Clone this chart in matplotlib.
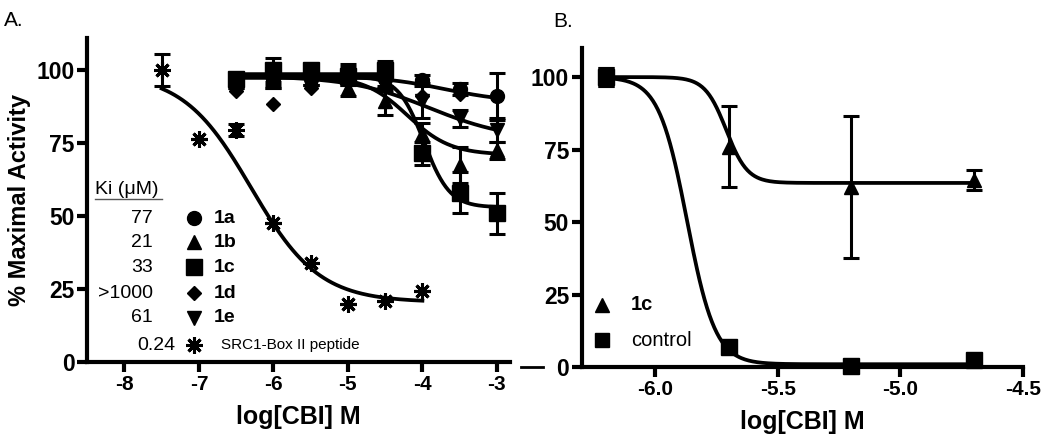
import numpy as np
import matplotlib.pyplot as plt
from matplotlib.lines import Line2D

plt.rcParams['font.family'] = ['Liberation Sans', 'DejaVu Sans']
plt.rcParams['axes.unicode_minus'] = False

# ---- panel A data ----
conc_a = [-6.5, -6.0, -5.5, -5.0, -4.5, -4.0, -3.5, -3.0]
a_1a = [97, 97, 97, 99, 97, 96.5, 93.5, 91]
a_1a_err = [2, 3, 2, 3, 3, 2, 2, 8]
a_1b = [96, 97, 97, 94, 89.5, 78, 67.5, 72.5]
a_1b_err = [2, 2, 2, 3, 5, 4, 6, 3]
a_1c = [97, 100, 100, 98, 100, 71.5, 58, 51]
a_1c_err = [2, 4, 2, 3, 3, 4, 7, 7]
a_1d = [93, 88.5, 94, 97, 97, 91, 92, 91]
a_1e = [96, 96, 97, 97, 96, 89.5, 83.5, 79.5]
a_1e_err = [2, 2, 2, 2, 3, 6, 3, 4]

conc_src = [-7.5, -7.0, -6.5, -6.0, -5.5, -5.0, -4.5, -4.0]
src = [100, 76.5, 79.5, 47.5, 34, 20, 21, 24.5]
src_err = [5.5, 0, 2, 0, 0, 0, 0, 0]

# fitted sigmoid parameters (top, bottom, logIC50, hill)
fit_1a = (98, 89, -3.7, 1.0)
fit_1b = (98, 71, -4.2, 1.5)
fit_1c = (98, 53, -3.98, 2.5)
fit_1e = (98, 76, -3.9, 0.8)
fit_src = (99, 20.5, -6.3, 0.95)

ki_vals = ['77', '21', '33', '>1000', '61']
ki_names = ['1a', '1b', '1c', '1d', '1e']

# ---- panel B data ----
conc_b = [-6.2, -5.7, -5.2, -4.7]
b_1c = [100, 76, 62, 64.5]
b_1c_err = [3, 14, 24.5, 3.5]
b_ctrl = [100, 7, 0.5, 2.5]
b_ctrl_err = [3, 0.5, 0.5, 0.5]
fit_b_1c = (100, 63.5, -5.71, 10)
fit_b_ctrl = (100, 1, -5.87, 7.5)


def sigmoid(x, p):
    top, bottom, ic50, hill = p
    return bottom + (top - bottom) / (1 + 10 ** ((x - ic50) * hill))


tick_font = dict(family=['Liberation Sans Narrow', 'Liberation Sans'], weight='bold')
star = (8, 2, 0)


def style_axes(ax):
    for s in ['top', 'right']:
        ax.spines[s].set_visible(False)
    for s in ['left', 'bottom']:
        ax.spines[s].set_linewidth(3)
    ax.tick_params(width=3, length=7, direction='out', pad=2)
    for lab in ax.get_yticklabels():
        lab.set(fontsize=16.5, **tick_font)
    for lab in ax.get_xticklabels():
        lab.set(fontsize=15, **tick_font)


fig = plt.figure(figsize=(10.5, 4.45), dpi=100)
ax1 = fig.add_axes([0.083, 0.1865, 0.403, 0.728])
ax2 = fig.add_axes([0.554, 0.175, 0.42, 0.717])

lw = 2.7
eb = dict(color='black', capsize=6, elinewidth=2.2, capthick=2.2, linestyle='none',
          clip_on=False)

# panel A curves
xa = np.linspace(-6.5, -3.0, 200)
for p in [fit_1a, fit_1b, fit_1c, fit_1e]:
    ax1.plot(xa, sigmoid(xa, p), color='black', lw=lw)
ax1.plot([-6.5, -4.5], [98, 98], color='black', lw=lw * 2)
xs = np.linspace(-7.5, -4.0, 200)
ax1.plot(xs, sigmoid(xs, fit_src), color='black', lw=lw)

ax1.errorbar(conc_a, a_1a, yerr=a_1a_err, fmt='o', ms=10, **eb)
ax1.errorbar(conc_a, a_1b, yerr=a_1b_err, fmt='^', ms=10, **eb)
ax1.errorbar(conc_a, a_1c, yerr=a_1c_err, fmt='s', ms=11, **eb)
ax1.plot(conc_a, a_1d, 'D', ms=7.5, color='black', linestyle='none')
ax1.errorbar(conc_a, a_1e, yerr=a_1e_err, fmt='v', ms=10, **eb)
ax1.errorbar(conc_src, src, yerr=src_err, fmt='none', **eb)
ax1.plot(conc_src, src, marker=star, ms=12, mew=2.2, color='black',
         linestyle='none')

ax1.set_xlim(-8.5, -2.82)
ax1.set_ylim(0, 111)
ax1.set_xticks([-8, -7, -6, -5, -4, -3])
ax1.set_xticklabels(['-8', '-7', '-6', '-5', '-4', '-3'])
ax1.set_yticks([0, 25, 50, 75, 100])
style_axes(ax1)
ax1.set_xlabel('log[CBI] M', fontsize=18, fontweight='bold', labelpad=8)
ax1.set_ylabel('% Maximal Activity', fontsize=17, fontweight='bold', labelpad=4)

# panel A legend table
ax1.text(-8.39, 59, 'Ki (\u03bcM)', fontsize=14, va='center', ha='left')
ax1.plot([-8.39, -7.49], [56.0, 56.0], color='#555555', lw=1)
rows_y = [49.3, 41.1, 32.5, 23.6, 15.1]
mk = [('o', 10), ('^', 10), ('s', 11), ('D', 7.5), ('v', 10)]
for y, kv, nm, (m, s) in zip(rows_y, ki_vals, ki_names, mk):
    ax1.text(-7.62, y, kv, fontsize=14, va='center', ha='right')
    ax1.plot([-7.07], [y], marker=m, ms=s, color='black')
    ax1.text(-6.80, y, nm, fontsize=14, fontweight='bold', va='center', ha='left')
ax1.text(-7.32, 5.8, '0.24', fontsize=14, va='center', ha='right')
ax1.plot([-7.07], [5.8], marker=star, ms=12, mew=2.2, color='black')
ax1.text(-6.70, 5.8, 'SRC1-Box II peptide', fontsize=11, va='center', ha='left')

# panel B
xb = np.linspace(-6.2, -4.7, 300)
ax2.plot(xb, sigmoid(xb, fit_b_1c), color='black', lw=lw)
ax2.plot(xb, sigmoid(xb, fit_b_ctrl), color='black', lw=lw)
ax2.errorbar(conc_b, b_1c, yerr=b_1c_err, fmt='^', ms=10, **eb)
ax2.errorbar(conc_b, b_ctrl, yerr=b_ctrl_err, fmt='s', ms=11, **eb)

ax2.set_xlim(-6.3, -4.5)
ax2.set_ylim(0, 110)
ax2.set_xticks([-6.0, -5.5, -5.0, -4.5])
ax2.set_xticklabels(['-6.0', '-5.5', '-5.0', '-4.5'])
ax2.set_yticks([0, 25, 50, 75, 100])
style_axes(ax2)
ax2.set_xlabel('log[CBI] M', fontsize=18, fontweight='bold', labelpad=8)

ax2.plot([-6.216], [21.5], marker='^', ms=10, color='black')
ax2.text(-6.10, 21.5, '1c', fontsize=14.5, fontweight='bold', va='center')
ax2.plot([-6.216], [9.3], marker='s', ms=10, color='black')
ax2.text(-6.10, 9.3, 'control', fontsize=14.5, va='center')

fig.text(0.004, 0.955, 'A.', fontsize=15, va='center')
fig.text(0.527, 0.952, 'B.', fontsize=15, va='center')
fig.add_artist(Line2D([0.496, 0.517], [0.175, 0.175], color='black', lw=2))

fig.savefig('out.png', dpi=100)
